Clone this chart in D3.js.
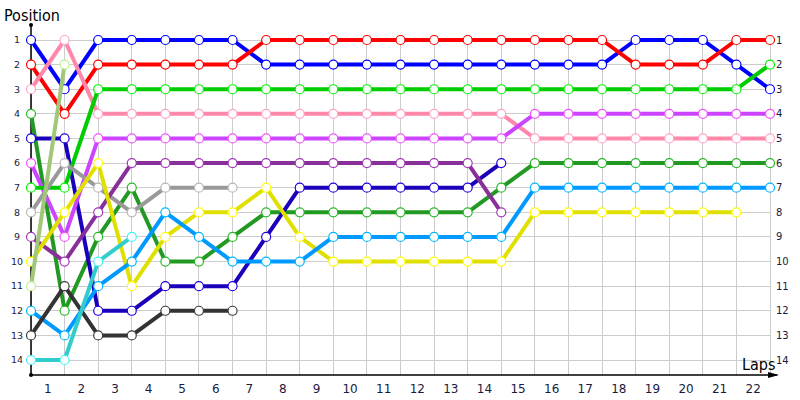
<!DOCTYPE html>
<html>
<head>
<meta charset="utf-8">
<script src="https://cdn.jsdelivr.net/npm/d3@7"></script>
<style>
  html, body { margin: 0; padding: 0; background: #fff; }
  svg { display: block; }
</style>
</head>
<body>
<svg id="chart" width="800" height="400"></svg>
<script>
// ---- Data ----
const laps = d3.range(1, 23);            // lap labels 1..22
const positions = d3.range(1, 15);       // positions 1..14
const seriesColors = ["#0000ff", "#ff0000", "#ff88aa", "#229922", "#1a00bb", "#cc44ff", "#00cc00",
                      "#999999", "#882f99", "#e0e000", "#a0c878", "#0099ff", "#333333", "#33cccc"];
// position after each lap boundary (index 0 = start); null = retired
const blue      = [1,3,1,1,1,1,1,2,2,2,2,2,2,2,2,2,2,2,1,1,1,2,3];
const red       = [2,4,2,2,2,2,2,1,1,1,1,1,1,1,1,1,1,1,2,2,2,1,1];
const pink      = [3,1,4,4,4,4,4,4,4,4,4,4,4,4,4,5,5,5,5,5,5,5,5];
const darkGreen = [4,12,9,7,10,10,9,8,8,8,8,8,8,8,7,6,6,6,6,6,6,6,6];
const darkBlue  = [5,5,12,12,11,11,11,9,7,7,7,7,7,7,6];
const violet    = [6,9,5,5,5,5,5,5,5,5,5,5,5,5,5,4,4,4,4,4,4,4,4];
const green     = [7,7,3,3,3,3,3,3,3,3,3,3,3,3,3,3,3,3,3,3,3,3,2];
const gray      = [8,6,7,8,7,7,7];
const purple    = [9,10,8,6,6,6,6,6,6,6,6,6,6,6,8];
const yellow    = [10,8,6,11,9,8,8,7,9,10,10,10,10,10,10,8,8,8,8,8,8,8];
const olive     = [11,2];
const lightBlue = [12,13,11,10,8,9,10,10,10,9,9,9,9,9,9,7,7,7,7,7,7,7,7];
const darkGray  = [13,11,13,13,12,12,12];
const cyan      = [14,14,10,9];
const seriesValues = [blue, red, pink, darkGreen, darkBlue, violet, green,
                      gray, purple, yellow, olive, lightBlue, darkGray, cyan];

// ---- Layout ----
const svg = d3.select("#chart");
const font = "DejaVu Sans, Verdana, sans-serif";
const fontC = "DejaVu Sans Condensed, DejaVu Sans, sans-serif";
const x = d3.scaleLinear().domain([0, laps.length]).range([31, 770]);
const y = d3.scaleLinear().domain([1, 14]).range([40, 360]);
const axisY = 375;

// grid
const grid = svg.append("g").attr("stroke", "#cccccc").attr("stroke-width", 1).attr("shape-rendering", "crispEdges");
grid.selectAll("line.h").data(positions).join("line")
  .attr("x1", x(0)).attr("x2", x(laps.length))
  .attr("y1", d => y(d)).attr("y2", d => y(d));
grid.selectAll("line.v").data(d3.range(0, laps.length + 1)).join("line")
  .attr("x1", d => x(d)).attr("x2", d => x(d))
  .attr("y1", y(1)).attr("y2", axisY);

// axes
svg.append("line").attr("x1", x(0)).attr("x2", x(0)).attr("y1", 25).attr("y2", axisY)
  .attr("stroke", "#000").attr("stroke-width", 1.5);
svg.append("line").attr("x1", x(0)).attr("x2", 777).attr("y1", axisY).attr("y2", axisY)
  .attr("stroke", "#000").attr("stroke-width", 1.5);
svg.append("circle").attr("cx", x(0)).attr("cy", 25).attr("r", 2).attr("fill", "#000");
svg.append("circle").attr("cx", x(0)).attr("cy", axisY).attr("r", 2).attr("fill", "#000");
svg.append("path").attr("d", `M768,${axisY-3} L779,${axisY} L768,${axisY+3} Z`).attr("fill", "#000");

// axis labels
svg.append("text").attr("x", 4).attr("y", 21).attr("font-family", fontC).attr("font-size", 16)
  .attr("fill", "#000").text("Position");
svg.append("text").attr("x", 742).attr("y", 370).attr("font-family", fontC).attr("font-size", 16)
  .attr("fill", "#000").text("Laps");

// tick labels
svg.append("g").selectAll("text").data(positions).join("text")
  .attr("x", 17).attr("y", d => y(d)).attr("dy", "0.35em").attr("text-anchor", "middle")
  .attr("font-family", font).attr("font-size", 9.5).attr("fill", "#1a1a40").text(d => d);
svg.append("g").selectAll("text").data(positions).join("text")
  .attr("x", 776).attr("y", d => y(d)).attr("dy", "0.35em").attr("text-anchor", "start")
  .attr("font-family", font).attr("font-size", 10).attr("fill", "#1a1a40").text(d => d);
svg.append("g").selectAll("text").data(laps).join("text")
  .attr("x", d => x(d - 0.5)).attr("y", 393).attr("text-anchor", "middle")
  .attr("font-family", font).attr("font-size", 12).attr("fill", "#1a1a40").text(d => d);

// series
const line = d3.line().defined(d => d != null).x((d, i) => x(i)).y(d => y(d));
seriesValues.forEach((vals, si) => {
  const c = seriesColors[si];
  const g = svg.append("g");
  g.append("path").attr("d", line(vals)).attr("fill", "none")
    .attr("stroke", c).attr("stroke-width", 4).attr("stroke-linejoin", "round");
  g.selectAll("circle").data(vals.map((v, i) => ({v, i})).filter(d => d.v != null)).join("circle")
    .attr("cx", d => x(d.i)).attr("cy", d => y(d.v)).attr("r", 4.5)
    .attr("fill", "#fff").attr("stroke", d3.color(c).brighter(0.5)).attr("stroke-width", 1.2);
});
</script>
</body>
</html>
